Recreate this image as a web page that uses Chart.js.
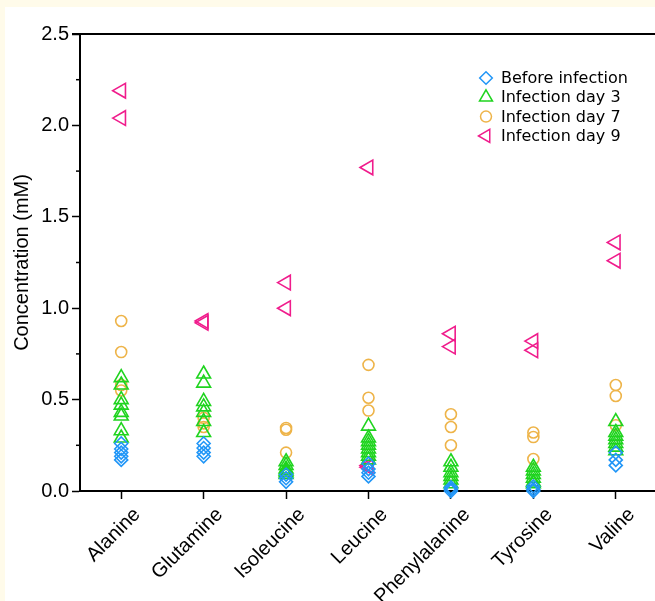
<!DOCTYPE html>
<html>
<head>
<meta charset="utf-8">
<script src="https://cdn.jsdelivr.net/npm/chart.js@4/dist/chart.umd.min.js"></script>
<style>
  html, body { margin: 0; padding: 0; background: #fffbea; overflow: hidden; }
  #wrap { position: absolute; left: 5px; top: 7px; width: 652px; height: 594px; background: #ffffff; }
  #c { position: absolute; left: 0; top: 0; }
</style>
</head>
<body>
<div id="wrap"><canvas id="c" width="652" height="594"></canvas></div>
<script>
const categories = ['Alanine', 'Glutamine', 'Isoleucine', 'Leucine', 'Phenylalanine', 'Tyrosine', 'Valine'];
const seriesNames = ['Before infection', 'Infection day 3', 'Infection day 7', 'Infection day 9'];
const yTickValues = [0, 0.5, 1.0, 1.5, 2.0, 2.5];

// values per amino acid (same order as categories)
const beforeInfection = [
  [0.26, 0.23, 0.21, 0.19, 0.17],
  [0.26, 0.235, 0.21, 0.19],
  [0.09, 0.07, 0.05],
  [0.15, 0.12, 0.10, 0.08],
  [0.02, 0.01, 0.0],
  [0.025, 0.01, 0.0],
  [0.21, 0.17, 0.14]
];
const infectionDay3 = [
  [0.62, 0.58, 0.50, 0.47, 0.43, 0.41, 0.33, 0.29],
  [0.64, 0.59, 0.49, 0.46, 0.43, 0.38, 0.32],
  [0.16, 0.14, 0.12, 0.11, 0.10, 0.09],
  [0.355, 0.29, 0.27, 0.25, 0.23, 0.21, 0.19, 0.17],
  [0.16, 0.13, 0.10, 0.08, 0.06, 0.04],
  [0.13, 0.11, 0.09, 0.07, 0.05, 0.04],
  [0.38, 0.32, 0.30, 0.28, 0.26, 0.24, 0.22]
];
const infectionDay7 = [
  [0.93, 0.76, 0.58, 0.55],
  [0.40, 0.37, 0.35],
  [0.345, 0.335, 0.21],
  [0.69, 0.51, 0.44],
  [0.42, 0.35, 0.25],
  [0.32, 0.295, 0.175],
  [0.58, 0.52, 0.36]
];
const infectionDay9 = [
  [2.19, 2.04],
  [0.93, 0.92],
  [1.14, 1.00],
  [1.77, 0.14, 0.13],
  [0.86, 0.79],
  [0.82, 0.77],
  [1.36, 1.26]
];

const colors = ['#2196f7', '#1fd41f', '#eeb449', '#f01c8c'];
const styles = ['rectRot', 'triangle', 'circle', 'triangle'];
const rotations = [0, 0, 0, -90];
const radii = [6.5, 8, 5.5, 8.5];

function toPoints(arr) {
  const pts = [];
  arr.forEach((vals, i) => vals.forEach(v => pts.push({ x: categories[i], y: v })));
  return pts;
}

const allSeries = [beforeInfection, infectionDay3, infectionDay7, infectionDay9];
const datasets = allSeries.map((s, k) => ({
  label: seriesNames[k],
  data: toPoints(s),
  showLine: false,
  pointStyle: styles[k],
  rotation: rotations[k],
  pointRadius: radii[k],
  pointHoverRadius: radii[k],
  pointBorderWidth: 1.6,
  borderColor: colors[k],
  backgroundColor: 'rgba(0,0,0,0)',
  pointBackgroundColor: 'rgba(0,0,0,0)',
  pointBorderColor: colors[k],
  clip: false
}));

const decorPlugin = {
  id: 'decor',
  afterDraw(chart) {
    const ctx = chart.ctx;
    const ya = chart.scales.y;
    const area = chart.chartArea;
    ctx.save();
    ctx.strokeStyle = '#000';
    ctx.lineWidth = 2;
    // top frame line
    ctx.beginPath();
    ctx.moveTo(area.left - 8, area.top);
    ctx.lineTo(chart.width, area.top);
    ctx.stroke();
    // minor ticks
    ctx.lineWidth = 1.5;
    for (let i = 0; i < yTickValues.length - 1; i++) {
      const v = (yTickValues[i] + yTickValues[i + 1]) / 2;
      const p = ya.getPixelForValue(v);
      ctx.beginPath();
      ctx.moveTo(area.left - 4, p);
      ctx.lineTo(area.left, p);
      ctx.stroke();
    }
    // legend
    const lx = 481, ly = 71, gap = 19.3, tx = 496;
    ctx.font = '16px "DejaVu Sans"';
    ctx.textBaseline = 'middle';
    ctx.textAlign = 'left';
    seriesNames.forEach((name, k) => {
      const y = ly + k * gap;
      ctx.strokeStyle = colors[k];
      ctx.lineWidth = 1.5;
      ctx.beginPath();
      const r = [6.3, 7.5, 5.5, 7.5][k];
      if (k === 0) {
        ctx.moveTo(lx, y - r); ctx.lineTo(lx + r, y); ctx.lineTo(lx, y + r); ctx.lineTo(lx - r, y); ctx.closePath();
      } else if (k === 1) {
        const w = r * Math.sqrt(3) / 2;
        ctx.moveTo(lx, y - r); ctx.lineTo(lx + w, y + r / 2); ctx.lineTo(lx - w, y + r / 2); ctx.closePath();
      } else if (k === 2) {
        ctx.arc(lx, y, r, 0, Math.PI * 2);
      } else {
        const w = r * Math.sqrt(3) / 2;
        ctx.moveTo(lx - r, y); ctx.lineTo(lx + r / 2, y - w); ctx.lineTo(lx + r / 2, y + w); ctx.closePath();
      }
      ctx.stroke();
      ctx.fillStyle = '#000';
      ctx.fillText(name, tx, y + 1);
    });
    ctx.restore();
  }
};

new Chart(document.getElementById('c'), {
  type: 'scatter',
  data: { datasets },
  options: {
    responsive: false,
    animation: false,
    events: [],
    layout: { autoPadding: false, padding: { top: 27, right: 0, left: 0, bottom: 0 } },
    plugins: { legend: { display: false }, tooltip: { enabled: false } },
    scales: {
      x: {
        type: 'category',
        labels: categories,
        offset: true,
        grid: { display: true, drawOnChartArea: false, offset: false, tickLength: 8, tickWidth: 1.5, tickColor: '#000' },
        border: { display: true, color: '#000', width: 2 },
        ticks: {
          color: '#000',
          font: { family: 'Liberation Sans', size: 20 },
          maxRotation: 45, minRotation: 45, padding: 4, autoSkip: false, labelOffset: 16
        },
        afterFit(s) { s.height = 110; s.paddingRight = 0; s.paddingLeft = 0; }
      },
      y: {
        min: 0, max: 2.5,
        afterBuildTicks(s) { s.ticks = yTickValues.map(v => ({ value: v })); },
        grid: { display: true, drawOnChartArea: false, tickLength: 8, tickWidth: 1.5, tickColor: '#000' },
        border: { display: true, color: '#000', width: 2 },
        ticks: {
          color: '#000',
          font: { family: 'Liberation Sans', size: 20 },
          padding: 3,
          callback: v => Number(v).toFixed(1)
        },
        title: {
          display: true, text: 'Concentration (mM)', color: '#000',
          font: { family: 'Liberation Sans', size: 20 }, padding: { top: 5, bottom: 0 }
        },
        afterFit(s) { s.width = 75; }
      }
    }
  },
  plugins: [decorPlugin]
});
</script>
</body>
</html>
